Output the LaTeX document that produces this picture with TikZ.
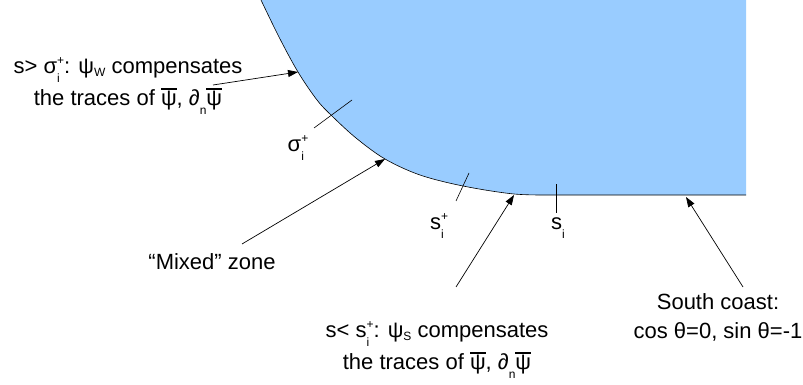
\documentclass[tikz,border=0pt]{standalone}
\usepackage{fontspec}
\setmainfont{Liberation Sans}
\usetikzlibrary{arrows.meta}
\definecolor{sea}{HTML}{99CCFF}
\newcommand\subsz{\fontsize{12}{12}\selectfont}
\newcommand\ssub[2]{\rlap{\raisebox{0.42em}{\subsz #1}}\rlap{\raisebox{-0.42em}{\subsz #2}}\hphantom{\subsz #1}}
\newcommand\lsub[1]{\raisebox{-0.12em}{\subsz #1}}
\newcommand\dsub[1]{\raisebox{-0.42em}{\subsz #1}}
\newcommand\obar[1]{\leavevmode\setbox0\hbox{#1}\rlap{\raisebox{\dimexpr\ht0+1pt\relax}{\rule{\wd0}{2pt}}}\box0}
\begin{document}
\begin{tikzpicture}[x=1pt,y=-1pt,
  lbl/.style={font=\fontsize{22}{32}\selectfont, align=center, inner sep=0pt},
  arr/.style={-{Triangle[length=10pt,width=7pt]}, line width=0.7pt},
  tickln/.style={line width=0.6pt}]
\useasboundingbox (0,0) rectangle (803,385);
\def\coast{(261,0)(279,37)(298,72)(317,100)(332,116)(356,138)(385,159)(420,175)(463,186)(514,194)(556,195)}
\fill[sea] (746,0) -- plot[smooth,tension=0.55] coordinates {\coast} -- (746,195) -- cycle;
\draw[line width=0.6pt] plot[smooth,tension=0.55] coordinates {\coast} -- (746,195);
% arrow tips on the coast
\coordinate (tipW) at (298,72);
\coordinate (tipM) at (385,159);
\coordinate (tipS) at (514,195);
\coordinate (tipC) at (686,197);
% tails
\coordinate (tailW) at (213,85);
\coordinate (tailM) at (242,244);
\coordinate (tailS) at (456,287);
\coordinate (tailC) at (743,287);
% ticks
\coordinate (t1a) at (314,128); \coordinate (t1b) at (352,100);
\coordinate (t2a) at (456,201); \coordinate (t2b) at (469,173);
\coordinate (t3a) at (556,184); \coordinate (t3b) at (556,213);
\draw[tickln] (t1a) -- (t1b);
\draw[tickln] (t2a) -- (t2b);
\draw[tickln] (t3a) -- (t3b);
% texts
\node[lbl] (west) at (128,86) {s> σ\ssub{+}{i}: ψ\lsub{W} compensates\\the traces of \obar{ψ}, ∂\dsub{n}\obar{ψ}};
\node[lbl] (mixed) at (212,262) {“Mixed” zone};
\node[lbl] (south) at (437,350) {s< s\ssub{+}{i}: ψ\lsub{S} compensates\\the traces of \obar{ψ}, ∂\dsub{n}\obar{ψ}};
\node[lbl,font=\fontsize{22}{29}\selectfont] (coast) at (718,317) {South coast:\\cos θ=0, sin θ=-1};
\node[lbl] (sig) at (298,148) {σ\ssub{+}{i}};
\node[lbl] (splus) at (439,226) {s\ssub{+}{i}};
\node[lbl] (si) at (558,228) {s\dsub{i}};
% arrows
\draw[arr] (tailW) -- (tipW);
\draw[arr] (tailM) -- (tipM);
\draw[arr] (tailS) -- (tipS);
\draw[arr] (tailC) -- (tipC);
\end{tikzpicture}
\end{document}
